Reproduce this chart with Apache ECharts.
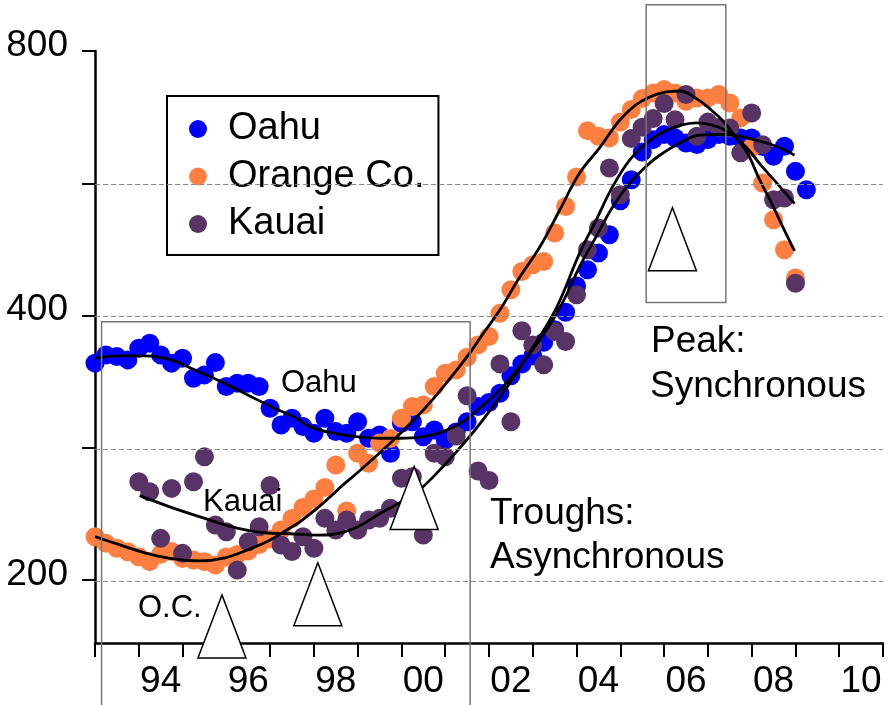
<!DOCTYPE html>
<html><head><meta charset="utf-8">
<script src="https://cdn.jsdelivr.net/npm/echarts@6/dist/echarts.min.js"></script>
<style>html,body{margin:0;padding:0;background:#fff}#c{width:888px;height:705px}</style>
</head><body><div id="c"></div><script>
// ---- data (index levels, quarterly) ----
const oahuStart = 1993;
const oahu = [353.1, 360.8, 359.2, 356.1, 367.2, 372.1, 360.8, 353.1, 357.7, 339.4,
  342.4, 353.6, 332.1, 335.0, 335.0, 332.1, 313.7, 300.3, 305.6, 299.0,
  293.9, 305.6, 295.1, 293.9, 302.9, 290.0, 292.5, 278.8, 301.7, 302.9,
  291.2, 296.4, 288.7, 294.8, 302.9, 315.1, 318.5, 326.3, 341.7, 352.2,
  359.9, 372.9, 385.3, 403.4, 432.3, 450.9, 471.1, 494.3, 540.4, 571.0,
  613.8, 634.2, 642.6, 637.1, 628.7, 626.0, 634.2, 642.6, 639.8, 637.1,
  637.1, 622.7, 607.0, 623.2, 583.6, 556.2];
const orangeStart = 1993;
const orange = [224.0, 220.2, 217.4, 215.4, 212.6, 209.9, 214.0, 215.5, 211.7, 210.8,
  209.9, 208.0, 212.5, 213.9, 215.8, 219.5, 222.7, 228.0, 235.0, 241.9,
  247.3, 254.9, 270.4, 239.7, 278.8, 271.6, 286.4, 289.9, 305.6, 315.1,
  316.5, 332.1, 343.9, 346.9, 358.5, 370.4, 378.6, 402.3, 427.9, 448.9,
  456.9, 460.9, 496.5, 532.4, 575.1, 649.3, 639.8, 637.1, 664.0, 686.1,
  706.2, 716.8, 723.0, 716.8, 701.2, 707.5, 707.5, 713.7, 698.2, 671.4,
  621.3, 565.9, 514.1, 475.2, 441.3];
const kauaiStart = 1994;
const kauai = [258.8, 252.1, 223.1, 254.3, 214.5, 258.8, 276.3, 231.0, 227.0, 205.3,
  221.1, 230.0, 256.2, 219.3, 215.5, 224.0, 217.4, 235.1, 228.0, 234.1,
  228.0, 234.1, 235.1, 241.4, 261.1, 262.2, 225.0, 278.8, 276.3, 291.7,
  324.2, 266.2, 259.6, 352.4, 302.9, 384.3, 370.4, 351.5, 383.6, 373.7,
  422.3, 475.2, 503.1, 588.8, 549.0, 635.9, 655.3, 670.1, 697.0, 668.3,
  713.7, 639.8, 664.0, 654.5, 653.9, 612.6, 680.2, 625.9, 541.8, 544.2, 435.3];

// fitted trend curves
const oahuFitX = [1993.0, 1993.6, 1994.14, 1994.74, 1995.28, 1995.88, 1996.49, 1997.1, 1997.56, 1997.91,
  1998.44, 1998.98, 1999.51, 1999.96, 2000.5, 2000.95, 2001.41, 2001.79, 2002.25, 2002.7,
  2003.16, 2003.62, 2004.07, 2004.45, 2004.83, 2005.22, 2005.6, 2005.9, 2006.36, 2006.81,
  2007.42, 2008.03, 2008.56, 2008.98];
const oahuFitY = [357.7, 359.9, 359.9, 356.1, 346.9, 336.4, 324.9, 313.7, 306.5, 299.0,
  293.9, 291.2, 290.0, 290.0, 291.2, 295.1, 302.9, 313.9, 329.2, 349.9,
  375.3, 408.2, 454.8, 492.2, 532.4, 566.3, 592.1, 608.8, 628.7, 641.7,
  643.1, 634.5, 623.2, 608.8];
const orangeFitX = [1993.0, 1993.57, 1994.14, 1994.71, 1995.4, 1995.97, 1996.54, 1997.0, 1997.45, 1997.68,
  1998.14, 1998.66, 1998.98, 1999.74, 2000.5, 2001.03, 2001.56, 2001.79, 2002.25, 2002.7,
  2003.16, 2003.62, 2004.07, 2004.53, 2004.99, 2005.44, 2005.97, 2006.36, 2006.74, 2007.04,
  2007.34, 2007.61, 2007.91, 2008.18, 2008.46, 2008.71, 2008.98];
const orangeFitY = [224.1, 219.3, 214.8, 211.7, 210.3, 212.0, 217.0, 222.1, 229.2, 233.0,
  242.9, 256.5, 264.6, 286.2, 312.3, 335.3, 362.4, 376.8, 406.0, 442.2,
  478.6, 527.8, 581.0, 621.0, 667.6, 699.3, 717.4, 720.4, 706.2, 687.9,
  666.5, 640.9, 611.2, 571.0, 536.2, 504.7, 473.9];
const kauaiFitX = [1994.02, 1994.74, 1995.51, 1996.27, 1996.87, 1997.45, 1998.06, 1998.82, 1999.58, 1999.96,
  2000.35, 2000.95, 2001.49, 2001.79, 2002.48, 2003.01, 2003.54, 2004.07, 2004.45, 2004.83,
  2005.22, 2005.6, 2005.98, 2006.36, 2006.74, 2007.12, 2007.5, 2007.88, 2008.26, 2008.64, 2008.98];
const kauaiFitY = [249.5, 242.0, 235.1, 229.0, 226.4, 225.8, 225.0, 228.0, 239.2, 245.0,
  251.7, 269.3, 288.7, 301.1, 335.3, 368.6, 408.2, 471.1, 514.1, 561.4,
  601.8, 628.7, 646.9, 658.5, 662.8, 658.5, 645.9, 621.3, 589.3, 561.2, 536.2];

// axes
const xMin = 1993, xMax = 2011;
const xTickYears = [1993,1994,1995,1996,1997,1998,1999,2000,2001,2002,2003,2004,2005,2006,2007,2008,2009,2010,2011];
const xLabelYears = [1994, 1996, 1998, 2000, 2002, 2004, 2006, 2008, 2010];
const yMinValue = 169.6, yMaxValue = 800;
const yTickValues = [200, 282.8, 400, 565.7, 800];
const yLabelValues = [200, 400, 800];
const yGridValues = [200, 282.8, 400, 565.7];

// annotations (data coordinates)
const troughBox = {x0: 1993.15, x1: 2001.57, top: 393.6, bottom: 140};
const peakBox = {x0: 2005.59, x1: 2007.41, top: 903, bottom: 414};
const turningPoints = [{x: 1995.90, base: 163.1}, {x: 1998.09, base: 177.4}, {x: 2000.29, base: 228.4}, {x: 2006.19, base: 449.9}];

const FONT = '"Liberation Sans", Arial, Helvetica, sans-serif';
const L2 = v => Math.log2(v);
const toPts = (start, arr) => arr.map((v, i) => [start + i / 4, L2(v)]);
const zipPts = (xs, ys) => xs.map((x, i) => [x, L2(ys[i])]);

const chart = echarts.init(document.getElementById('c'), null, {renderer: 'canvas'});
const scat = (name, data, color) => ({
  name, type: 'scatter', data, symbol: 'circle', symbolSize: 19,
  itemStyle: {color, opacity: 1}, emphasis: {disabled: true}, silent: true, z: 2
});
const fit = (name, data) => ({
  name, type: 'line', data, smooth: 0.4, showSymbol: false, symbol: 'none',
  lineStyle: {color: '#000', width: 2.8}, itemStyle: {color: '#000'},
  emphasis: {disabled: true}, silent: true, z: 4
});

const option = {
  animation: false,
  backgroundColor: '#fff',
  grid: {left: 95, right: 5, top: 51, bottom: 62, containLabel: false},
  xAxis: {
    type: 'value', min: xMin, max: xMax,
    axisLine: {show: true, lineStyle: {color: '#000', width: 2.5}},
    axisTick: {show: true, inside: false, length: 14, lineStyle: {color: '#000', width: 2}, customValues: xTickYears},
    axisLabel: {customValues: xLabelYears.map(y => y + 0.5),
      formatter: v => String(Math.floor(v) % 100).padStart(2, '0'),
      fontSize: 37, fontFamily: FONT, color: '#000', margin: 20, lineHeight: 37},
    splitLine: {show: false}
  },
  yAxis: {
    type: 'value', min: L2(yMinValue), max: L2(yMaxValue),
    axisLine: {show: true, lineStyle: {color: '#000', width: 2.5}},
    axisTick: {show: true, inside: false, length: 13, lineStyle: {color: '#000', width: 2}, customValues: yTickValues.map(L2)},
    axisLabel: {customValues: yLabelValues.map(L2),
      formatter: v => String(Math.round(Math.pow(2, v))),
      fontSize: 37, fontFamily: FONT, color: '#000', margin: 27,
      verticalAlign: 'bottom', lineHeight: 11},
    splitLine: {show: false}
  },
  legend: {
    data: ['Oahu', 'Orange Co.', 'Kauai'],
    orient: 'vertical', left: 167, top: 96,
    padding: [14, 14, 12, 22], itemGap: 9.5, itemWidth: 50, itemHeight: 18,
    icon: 'circle', selectedMode: false,
    borderColor: '#000', borderWidth: 2, backgroundColor: '#fff',
    textStyle: {fontSize: 38, fontFamily: FONT, color: '#000', lineHeight: 37}
  },
  series: [
    {type: 'line', data: [], silent: true, z: 1,
      markLine: {symbol: 'none', silent: true, label: {show: false}, animation: false,
        lineStyle: {color: '#8a8a8a', type: [5, 3], width: 1},
        data: yGridValues.map(v => ({yAxis: L2(v)}))}},
    scat('Oahu', toPts(oahuStart, oahu), '#0000ff'),
    scat('Orange Co.', toPts(orangeStart, orange), '#ff7f40'),
    scat('Kauai', toPts(kauaiStart, kauai), '#573366'),
    fit('Oahu fit', zipPts(oahuFitX, oahuFitY)),
    fit('Orange fit', zipPts(orangeFitX, orangeFitY)),
    fit('Kauai fit', zipPts(kauaiFitX, kauaiFitY))
  ]
};
chart.setOption(option);

const P = (x, v) => chart.convertToPixel({gridIndex: 0}, [x, L2(v)]);
const g = [];
[troughBox, peakBox].forEach(b => {
  const a = P(b.x0, b.top), c = P(b.x1, b.bottom);
  g.push({type: 'rect', z: 100, silent: true,
    shape: {x: a[0], y: a[1], width: c[0] - a[0], height: c[1] - a[1]},
    style: {fill: 'none', stroke: '#777', lineWidth: 1.5}});
});
turningPoints.forEach(t => {
  const p = P(t.x, t.base);
  g.push({type: 'polygon', z: 101, silent: true,
    shape: {points: [[p[0], p[1] - 63], [p[0] - 24, p[1]], [p[0] + 24, p[1]]]},
    style: {fill: '#fff', stroke: '#000', lineWidth: 1.5}});
});
const texts = [
  ['Oahu', 281, 383, 31], ['Kauai', 203, 502, 31], ['O.C.', 138, 608, 31],
  ['Troughs:', 490, 513.5, 37], ['Asynchronous', 490, 557.5, 37],
  ['Peak:', 651, 342, 37], ['Synchronous', 650, 387, 37]
];
texts.forEach(t => g.push({type: 'text', z: 102, silent: true, x: t[1], y: t[2],
  style: {text: t[0], font: t[3] + 'px ' + FONT, fill: '#000', textAlign: 'left', textVerticalAlign: 'middle'}}));
chart.setOption({graphic: g});
</script></body></html>
